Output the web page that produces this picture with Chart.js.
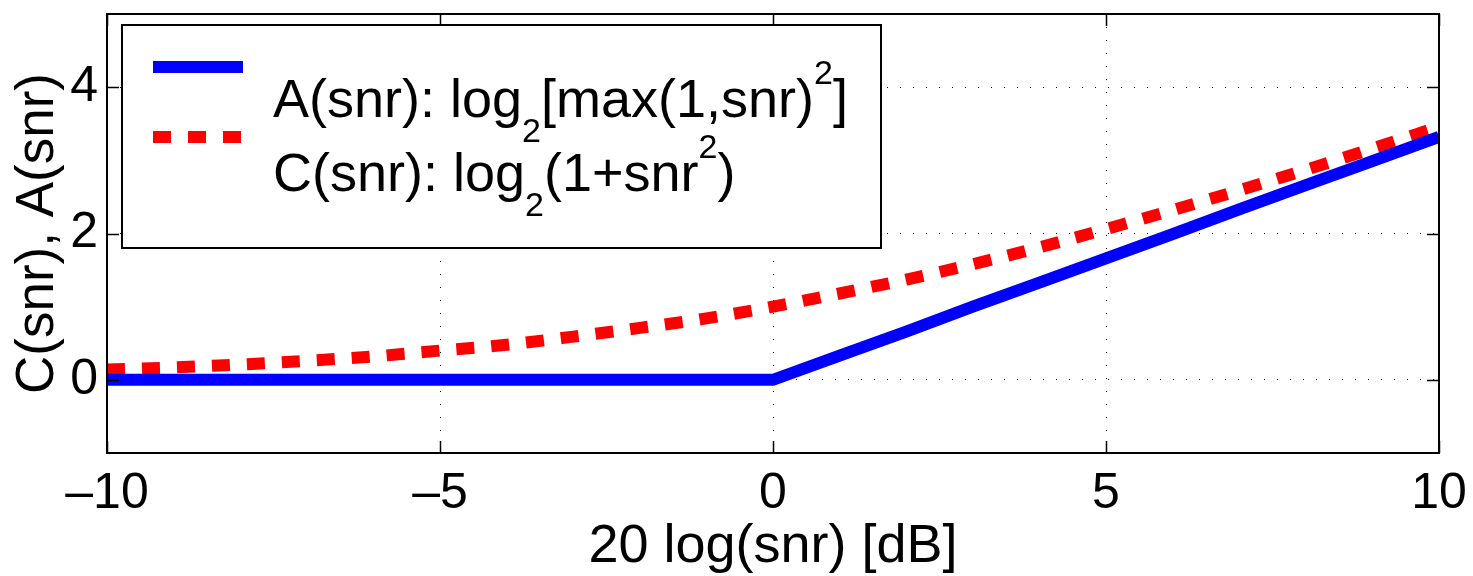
<!DOCTYPE html>
<html>
<head>
<meta charset="utf-8">
<script src="https://cdn.jsdelivr.net/npm/chart.js@4/dist/chart.umd.min.js"></script>
<style>
  html, body { margin: 0; padding: 0; background: #fff; }
  #wrap { width: 1473px; height: 576px; position: relative; }
</style>
</head>
<body>
<div id="wrap"><canvas id="cv"></canvas></div>
<script>
/* C(snr) vs A(snr) */

const snrDb   = [-10, -9, -8, -7, -6, -5, -4, -3, -2, -1, 0, 1, 2, 3, 4, 5, 6, 7, 8, 9, 10];
const capC    = [0.14, 0.17, 0.21, 0.26, 0.32, 0.40, 0.48, 0.59, 0.71, 0.84, 1.00, 1.18, 1.37, 1.58, 1.81, 2.06, 2.32, 2.59, 2.87, 3.16, 3.46];
const capA    = [0, 0, 0, 0, 0, 0, 0, 0, 0, 0, 0, 0.33, 0.66, 1.00, 1.33, 1.66, 1.99, 2.33, 2.66, 2.99, 3.32];
const xTicks  = [-10, -5, 0, 5, 10];
const yTicks  = [0, 2, 4];
const legendA = [['A(snr): log'], ['2', 'sub'], ['[max(1,snr)'], ['2', 'sup'], [']']];
const legendC = [['C(snr): log'], ['2', 'sub'], ['(1+snr'], ['2', 'sup'], [')']];

const FONT = '"Liberation Sans", Arial, Helvetica, sans-serif';
const BLUE = '#0000ff';
const RED  = '#ff0000';

const pts = ys => snrDb.map((x, i) => ({ x, y: ys[i] }));

// MATLAB-ish frame with inward ticks on all four sides
const framePlugin = {
  id: 'frame',
  afterDatasetsDraw(chart) {
    const { ctx, chartArea: a, scales: { x, y } } = chart;
    const tl = 12;
    ctx.save();
    ctx.strokeStyle = '#000';
    ctx.lineWidth = 1.5;
    ctx.beginPath();
    xTicks.forEach(v => {
      const px = Math.round(x.getPixelForValue(v)) + 0.5;
      ctx.moveTo(px, a.bottom); ctx.lineTo(px, a.bottom - tl);
      ctx.moveTo(px, a.top);    ctx.lineTo(px, a.top + tl);
    });
    yTicks.forEach(v => {
      const py = Math.round(y.getPixelForValue(v)) + 0.5;
      ctx.moveTo(a.left, py);  ctx.lineTo(a.left + tl, py);
      ctx.moveTo(a.right, py); ctx.lineTo(a.right - tl, py);
    });
    ctx.stroke();
    ctx.lineWidth = 2;
    ctx.strokeRect(a.left, a.top, a.right - a.left, a.bottom - a.top);
    ctx.restore();
  },
};

// legend with sub/superscripts (the built-in legend can't do those)
const texLegendPlugin = {
  id: 'texLegend',
  afterDraw(chart) {
    const { ctx } = chart;
    const box = { x: 122, y: 25, w: 759, h: 223 };
    ctx.save();
    ctx.fillStyle = '#fff';
    ctx.fillRect(box.x, box.y, box.w, box.h);
    ctx.strokeStyle = '#000';
    ctx.lineWidth = 2;
    ctx.strokeRect(box.x, box.y, box.w, box.h);

    const sample = (ds, yy) => {
      ctx.beginPath();
      ctx.strokeStyle = ds.borderColor;
      ctx.lineWidth = ds.borderWidth;
      ctx.lineCap = 'butt';
      ctx.setLineDash(ds.borderDash || []);
      ctx.moveTo(153, yy); ctx.lineTo(243, yy);
      ctx.stroke();
      ctx.setLineDash([]);
    };
    const rich = (parts, x0, base) => {
      let xx = x0;
      ctx.fillStyle = '#000';
      ctx.textBaseline = 'alphabetic';
      ctx.textAlign = 'left';
      parts.forEach(([t, kind]) => {
        const small = kind === 'sub' || kind === 'sup';
        ctx.font = (small ? 34 : 54) + 'px ' + FONT;
        const dy = kind === 'sub' ? 25 : kind === 'sup' ? -33 : 0;
        ctx.fillText(t, xx, base + dy);
        xx += ctx.measureText(t).width;
      });
    };
    const dsets = chart.data.datasets;
    sample(dsets[0], 67);
    sample(dsets[1], 137);
    rich(legendA, 273, 117);
    rich(legendC, 273, 191);
    ctx.restore();
  },
};

new Chart(document.getElementById('cv'), {
  type: 'line',
  data: {
    datasets: [
      {
        label: 'A(snr)',
        data: pts(capA),
        borderColor: BLUE,
        borderWidth: 12,
        pointRadius: 0,
        tension: 0,
        borderCapStyle: 'butt',
      },
      {
        label: 'C(snr)',
        data: pts(capC),
        borderColor: RED,
        borderWidth: 12,
        borderDash: [18, 17],
        pointRadius: 0,
        cubicInterpolationMode: 'monotone',
        borderCapStyle: 'butt',
      },
    ],
  },
  options: {
    responsive: true,
    maintainAspectRatio: false,
    animation: false,
    events: [],
    layout: { padding: { top: 10, right: 34, left: 0, bottom: 0 } },
    plugins: { legend: { display: false }, tooltip: { enabled: false } },
    scales: {
      x: {
        type: 'linear',
        min: -10, max: 10,
        afterBuildTicks: s => { s.ticks = xTicks.map(v => ({ value: v })); },
        afterFit: s => { s.height = 123; },
        grid: { color: '#000', lineWidth: 1, drawTicks: true, tickLength: 11, tickColor: 'rgba(0,0,0,0)' },
        border: { display: false, dash: [1, 12] },
        ticks: {
          color: '#000', padding: 0,
          font: { family: FONT, size: 50 },
          maxRotation: 0, autoSkip: false,
          callback: v => String(v).replace('-', '\u2013'),
        },
        title: {
          display: true, text: '20 log(snr) [dB]', color: '#000',
          font: { family: FONT, size: 54, lineHeight: 1 },
          padding: { top: 0, bottom: 2 },
        },
      },
      y: {
        min: -1, max: 5,
        afterBuildTicks: s => { s.ticks = yTicks.map(v => ({ value: v })); },
        afterFit: s => { s.width = 107; },
        grid: { color: '#000', lineWidth: 1, drawTicks: false },
        border: { display: false, dash: [1, 12] },
        ticks: {
          color: '#000', padding: 9,
          font: { family: FONT, size: 50, lineHeight: 0.2 },
        },
        title: {
          display: true, text: 'C(snr), A(snr)', color: '#000',
          font: { family: FONT, size: 53, lineHeight: 1 },
          padding: { top: 12, bottom: 0 },
        },
      },
    },
  },
  plugins: [framePlugin, texLegendPlugin],
});
</script>
</body>
</html>
